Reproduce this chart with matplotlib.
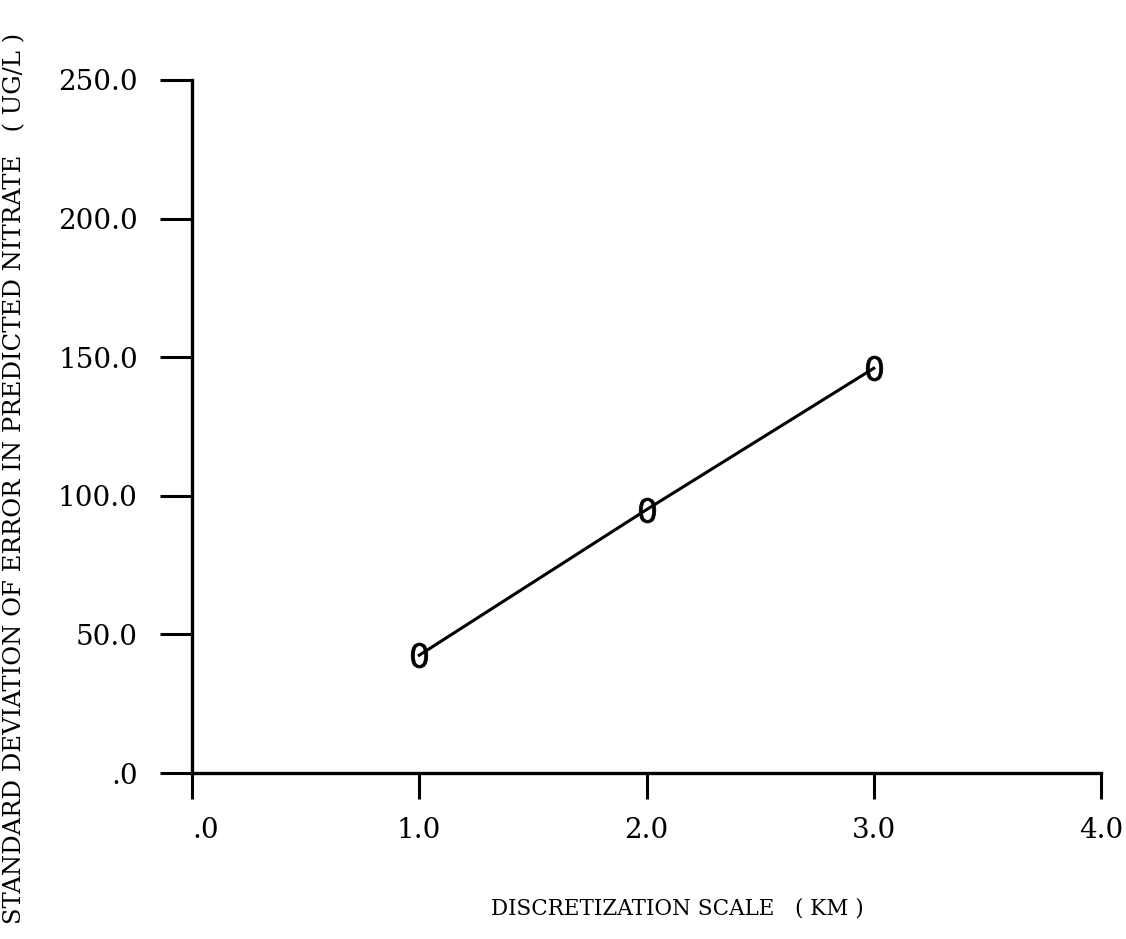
import matplotlib
matplotlib.use("Agg")
import matplotlib.pyplot as plt

# Data
scale_km = [1.0, 2.0, 3.0]
std_error = [42.5, 95.0, 146.0]
x_ticks = [0.0, 1.0, 2.0, 3.0, 4.0]
x_tick_labels = [".0", "1.0", "2.0", "3.0", "4.0"]
y_ticks = [0.0, 50.0, 100.0, 150.0, 200.0, 250.0]
y_tick_labels = [".0", "50.0", "100.0", "150.0", "200.0", "250.0"]
x_label = "DISCRETIZATION SCALE   ( KM )"
y_label = "STANDARD DEVIATION OF ERROR IN PREDICTED NITRATE   ( UG/L )"

FONT = "DejaVu Serif"

fig = plt.figure(figsize=(11.26, 9.39), dpi=100)
W, H = 1126, 939
ax = fig.add_axes([192 / W, 1 - 773 / H, (1101 - 192) / W, (773 - 80) / H])

ax.plot(scale_km, std_error, color="black", linewidth=2.2,
        marker="$0$", markersize=18, markeredgewidth=0.5,
        markerfacecolor="black", markeredgecolor="black")

ax.set_xlim(0, 4)
ax.set_ylim(0, 250)

for s in ["top", "right"]:
    ax.spines[s].set_visible(False)
for s in ["left", "bottom"]:
    ax.spines[s].set_linewidth(2.4)
    ax.spines[s].set_color("black")

ax.set_xticks(x_ticks)
ax.set_xticklabels(x_tick_labels, fontfamily=FONT, fontsize=20)
ax.set_yticks(y_ticks)
ax.set_yticklabels(y_tick_labels, fontfamily=FONT, fontsize=20)
ax.tick_params(axis="x", direction="out", length=19, width=2.2, pad=13)
ax.tick_params(axis="y", direction="out", length=23, width=2.2, pad=16)
ax.get_xticklabels()[0].set_horizontalalignment("left")

fig.text(677 / W, 1 - 908 / H, x_label, fontfamily=FONT, fontsize=15.5,
         ha="center", va="center")
fig.text(15 / W, 1 - 478 / H, y_label, fontfamily=FONT, fontsize=17.5,
         ha="center", va="center", rotation=90)

fig.savefig("out.png", dpi=100, facecolor="white")
